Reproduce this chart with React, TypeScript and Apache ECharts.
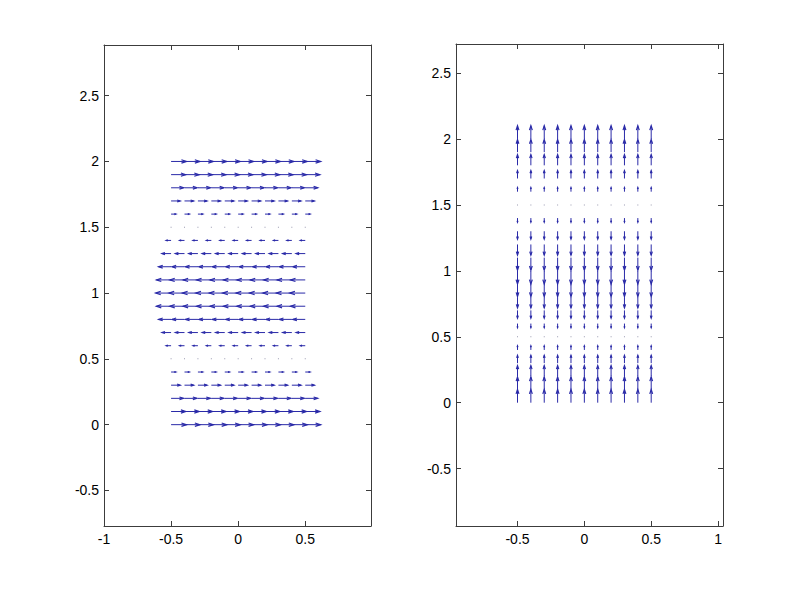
import React, { useEffect, useRef } from "react";
import * as echarts from "echarts";

// Grid of arrow origins
const gridX = [-0.5, -0.4, -0.3, -0.2, -0.1, 0, 0.1, 0.2, 0.3, 0.4, 0.5];
const gridY = [0, 0.1, 0.2, 0.3, 0.4, 0.5, 0.6, 0.7, 0.8, 0.9, 1.0, 1.1, 1.2, 1.3, 1.4, 1.5, 1.6, 1.7, 1.8, 1.9, 2.0];

// Left panel: horizontal component per row (v = 0)
const leftU = [0.115, 0.109, 0.093, 0.068, 0.036, 0, -0.036, -0.068, -0.093, -0.109, -0.115, -0.109, -0.093, -0.068, -0.036, 0, 0.036, 0.068, 0.093, 0.109, 0.115];
// Right panel: vertical component per row (u = 0)
const rightV = [0.1, 0.095, 0.081, 0.059, 0.031, 0, -0.031, -0.059, -0.081, -0.095, -0.1, -0.095, -0.081, -0.059, -0.031, 0, 0.031, 0.059, 0.081, 0.095, 0.1];

// Tick labels
const leftXTicks = [-1, -0.5, 0, 0.5];
const rightXTicks = [-0.5, 0, 0.5, 1];
const yTicks = [-0.5, 0, 0.5, 1, 1.5, 2, 2.5];

// Axis limits
const leftXRange = [-1, 0.99];
const leftYRange = [-0.77, 2.885];
const rightXRange = [-0.96, 1.037];
const rightYRange = [-0.935, 2.72];

const ARROW = "#2a2aa8";
const AXIS = "#3c3c3c";

function buildData(uRows: number[] | null, vRows: number[] | null) {
  const out: number[][] = [];
  gridY.forEach((y, i) => {
    gridX.forEach((x) => {
      out.push([x, y, uRows ? uRows[i] : 0, vRows ? vRows[i] : 0]);
    });
  });
  return out;
}

function renderArrow(params: any, api: any) {
  const x = api.value(0);
  const y = api.value(1);
  const u = api.value(2);
  const v = api.value(3);
  const p0 = api.coord([x, y]);
  const p1 = api.coord([x + u, y + v]);
  const dx = p1[0] - p0[0];
  const dy = p1[1] - p0[1];
  const len = Math.sqrt(dx * dx + dy * dy);
  if (len < 0.5) {
    return {
      type: "rect",
      shape: { x: p0[0] - 0.5, y: p0[1] - 0.5, width: 1, height: 1 },
      style: { fill: "#9a9ab0" },
    };
  }
  const a = 0.33;
  const b = 0.33;
  const h1 = [p1[0] - a * (dx + b * dy), p1[1] - a * (dy - b * dx)];
  const h2 = [p1[0] - a * (dx - b * dy), p1[1] - a * (dy + b * dx)];
  return {
    type: "group",
    children: [
      {
        type: "line",
        shape: { x1: p0[0], y1: p0[1], x2: p1[0], y2: p1[1] },
        style: { stroke: ARROW, lineWidth: 1 },
      },
      {
        type: "polyline",
        shape: { points: [h1, p1, h2] },
        style: { stroke: ARROW, lineWidth: 1.2, fill: null },
      },
    ],
  };
}

const labelStyle = {
  color: "#000",
  fontFamily: "'Liberation Sans', Arial, sans-serif",
  fontSize: 14,
};

function xAxes(gridIndex: number, range: number[], ticks: number[]) {
  const common = {
    type: "value" as const,
    gridIndex,
    min: range[0],
    max: range[1],
    splitLine: { show: false },
    axisLine: { show: true, onZero: false, lineStyle: { color: AXIS, width: 1 } },
  };
  return [
    {
      ...common,
      position: "bottom",
      axisTick: { show: true, inside: true, length: 5, customValues: ticks, lineStyle: { color: AXIS } },
      axisLabel: { show: true, margin: 6, customValues: ticks, ...labelStyle },
    },
    {
      ...common,
      position: "top",
      axisTick: { show: true, inside: true, length: 5, customValues: ticks, lineStyle: { color: AXIS } },
      axisLabel: { show: false },
    },
  ];
}

function yAxes(gridIndex: number, range: number[], ticks: number[]) {
  const common = {
    type: "value" as const,
    gridIndex,
    min: range[0],
    max: range[1],
    splitLine: { show: false },
    axisLine: { show: true, onZero: false, lineStyle: { color: AXIS, width: 1 } },
  };
  return [
    {
      ...common,
      position: "left",
      axisTick: { show: true, inside: true, length: 5, customValues: ticks, lineStyle: { color: AXIS } },
      axisLabel: { show: true, margin: 5, customValues: ticks, ...labelStyle },
    },
    {
      ...common,
      position: "right",
      axisTick: { show: true, inside: true, length: 5, customValues: ticks, lineStyle: { color: AXIS } },
      axisLabel: { show: false },
    },
  ];
}

export default function App() {
  const ref = useRef<HTMLDivElement>(null);
  useEffect(() => {
    if (!ref.current) return;
    const chart = echarts.init(ref.current, null, { renderer: "svg" });
    const option = {
      animation: false,
      backgroundColor: "#ffffff",
      grid: [
        { left: 104, top: 45, width: 267, height: 481 },
        { left: 456, top: 44, width: 267, height: 482 },
      ],
      xAxis: [...xAxes(0, leftXRange, leftXTicks), ...xAxes(1, rightXRange, rightXTicks)],
      yAxis: [...yAxes(0, leftYRange, yTicks), ...yAxes(1, rightYRange, yTicks)],
      series: [
        {
          type: "custom",
          xAxisIndex: 0,
          yAxisIndex: 0,
          renderItem: renderArrow,
          encode: { x: 0, y: 1 },
          data: buildData(leftU, null),
          silent: true,
        },
        {
          type: "custom",
          xAxisIndex: 2,
          yAxisIndex: 2,
          renderItem: renderArrow,
          encode: { x: 0, y: 1 },
          data: buildData(null, rightV),
          silent: true,
        },
      ],
    };
    chart.setOption(option as any);
    return () => chart.dispose();
  }, []);
  return (
    <div
      ref={ref}
      style={{ position: "fixed", left: 0, top: 0, width: 799, height: 599, background: "#fff" }}
    />
  );
}
